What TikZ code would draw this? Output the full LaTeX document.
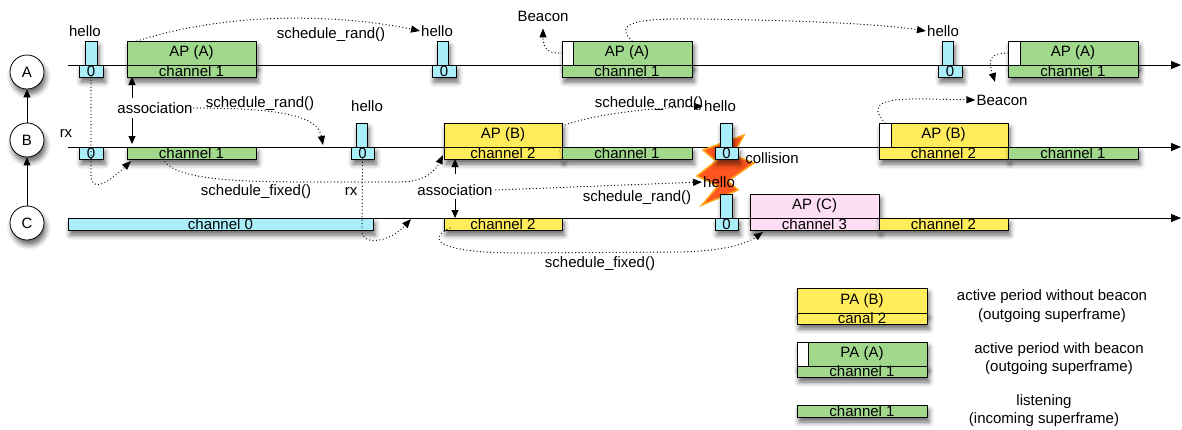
\documentclass[tikz,border=0pt]{standalone}
\usepackage{fontspec}
\setmainfont{Liberation Sans}
\usetikzlibrary{arrows.meta,shadows.blur}
\definecolor{cgreen}{RGB}{160,216,140}
\definecolor{ccyan}{RGB}{170,238,250}
\definecolor{cyellow}{RGB}{255,236,90}
\definecolor{cpink}{RGB}{253,222,245}
\definecolor{corange}{RGB}{255,85,30}
\definecolor{cedge}{RGB}{255,165,20}
\newcommand{\myfs}{\fontsize{15}{18}\selectfont}
\newcommand{\mkbox}[7]{\node[#2, minimum width={(#5-#3)*1pt}, minimum height={(#6-#4)*1pt}] (#1) at ({(#3+#5)/2},{(#4+#6)/2}) {#7};}
\begin{document}
\begin{tikzpicture}[x=1pt,y=-1pt,
  shad/.style={blur shadow={shadow xshift=2pt, shadow yshift=-5pt, shadow blur radius=5pt, shadow opacity=60}},
  bx/.style={draw, line width=0.8pt, inner sep=0pt, outer sep=0pt, shad},
  ch/.style={bx, font=\myfs, text height=10.5pt, text depth=0.5pt},
  ap/.style={bx, font=\myfs},
  bcn/.style={draw, fill=white, line width=0.8pt, inner sep=0pt, outer sep=0pt},
  lbl/.style={font=\myfs, inner sep=1pt},
  circ/.style={circle, draw, fill=white, minimum size=34pt, inner sep=0pt, line width=0.8pt, font=\myfs, shad},
  tl/.style={line width=0.9pt, -{Triangle[length=10pt,width=8pt]}},
  solidarr/.style={line width=1pt, -{Triangle[length=8pt,width=7pt]}},
  dotarr/.style={line width=1.3pt, line cap=round, dash pattern=on 0pt off 3.4pt, -{Triangle[length=9pt,width=7pt]}}
]
\useasboundingbox (0,0) rectangle (1182,429);

% timelines
\coordinate (LA0) at (68,65);  \coordinate (LA1) at (1181,65);
\coordinate (LB0) at (68,147); \coordinate (LB1) at (1181,147);
\coordinate (LC0) at (68,218); \coordinate (LC1) at (1181,218);
\draw[tl] (LA0) -- (LA1);
\draw[tl] (LB0) -- (LB1);
\draw[tl] (LC0) -- (LC1);

% station circles
\node[circ] (nA) at (27,72) {A};
\node[circ] (nB) at (27,140) {B};
\node[circ] (nC) at (27,223) {C};
\draw[solidarr] (nC) -- (nB);
\draw[solidarr] (nB) -- (nA);

% collision bolt
\filldraw[fill=corange, draw=cedge, line width=1.5pt, line join=miter]
  (744,135) -- (703,150) -- (716,161) -- (697,176) -- (718,186) -- (702,205)
  -- (738,190) -- (728,181) -- (754,163) -- (733,155) -- cycle;

% row A
\mkbox{Aht1}{bx,fill=ccyan}{85}{41}{97}{65}{}
\mkbox{Ah1}{ch,fill=ccyan}{79}{65}{103}{77}{0}
\mkbox{Aapt1}{ap,fill=cgreen}{127}{41}{256}{65}{AP (A)}
\mkbox{Aap1}{ch,fill=cgreen}{127}{65}{256}{77}{channel 1}
\mkbox{Aht2}{bx,fill=ccyan}{437}{41}{448}{65}{}
\mkbox{Ah2}{ch,fill=ccyan}{432}{65}{456}{77}{0}
\mkbox{Aapt2}{ap,fill=cgreen}{562}{41}{692}{65}{AP (A)}
\mkbox{Ab2}{bcn}{562}{41}{573}{65}{}
\mkbox{Aap2}{ch,fill=cgreen}{562}{65}{692}{77}{channel 1}
\mkbox{Aht3}{bx,fill=ccyan}{942}{41}{953}{65}{}
\mkbox{Ah3}{ch,fill=ccyan}{938}{65}{962}{77}{0}
\mkbox{Aapt3}{ap,fill=cgreen}{1008}{41}{1138}{65}{AP (A)}
\mkbox{Ab3}{bcn}{1008}{41}{1020}{65}{}
\mkbox{Aap3}{ch,fill=cgreen}{1008}{65}{1138}{77}{channel 1}

% row B
\mkbox{Bh1}{ch,fill=ccyan}{79}{147}{103}{159}{0}
\mkbox{Bch1}{ch,fill=cgreen}{127}{147}{256}{159}{channel 1}
\mkbox{Bht2}{bx,fill=ccyan}{356}{123}{367}{147}{}
\mkbox{Bh2}{ch,fill=ccyan}{351}{147}{374}{159}{0}
\mkbox{Bapt1}{ap,fill=cyellow}{444}{123}{562}{147}{AP (B)}
\mkbox{Bap1}{ch,fill=cyellow}{444}{147}{562}{159}{channel 2}
\mkbox{Bch2}{ch,fill=cgreen}{562}{147}{692}{159}{channel 1}
\mkbox{Bht3}{bx,fill=ccyan}{720}{123}{732}{147}{}
\mkbox{Bh3}{ch,fill=ccyan}{715}{147}{738}{159}{0}
\mkbox{Bapt2}{ap,fill=cyellow}{879}{123}{1008}{147}{AP (B)}
\mkbox{Bb2}{bcn}{879}{123}{891}{147}{}
\mkbox{Bap2}{ch,fill=cyellow}{879}{147}{1008}{159}{channel 2}
\mkbox{Bch3}{ch,fill=cgreen}{1008}{147}{1138}{159}{channel 1}

% row C
\mkbox{Cch0}{ch,fill=ccyan}{68}{218}{373}{230}{channel 0}
\mkbox{Cch2}{ch,fill=cyellow}{444}{218}{562}{230}{channel 2}
\mkbox{Cht}{bx,fill=ccyan}{720}{194}{732}{218}{}
\mkbox{Ch}{ch,fill=ccyan}{715}{218}{738}{230}{0}
\mkbox{Capt}{ap,fill=cpink}{750}{194}{879}{218}{AP (C)}
\mkbox{Cap}{ch,fill=cpink}{750}{218}{879}{230}{channel 3}
\mkbox{Cch2b}{ch,fill=cyellow}{879}{218}{1008}{230}{channel 2}

% legend
\mkbox{Lt1}{ap,fill=cyellow}{797}{288}{927}{313}{PA (B)}
\mkbox{L1}{ch,fill=cyellow}{797}{313}{927}{324}{canal 2}
\mkbox{Lt2}{ap,fill=cgreen}{797}{342}{927}{366}{PA (A)}
\mkbox{Lb2}{bcn}{797}{342}{808}{366}{}
\mkbox{L2}{ch,fill=cgreen}{797}{366}{927}{377}{channel 1}
\mkbox{L3}{ch,fill=cgreen}{797}{405}{927}{417}{channel 1}
\node[lbl] (lg1a) at (1052,297) {active period without beacon};
\node[lbl] (lg1b) at (1052,316) {(outgoing superframe)};
\node[lbl] (lg2a) at (1059,350) {active period with beacon};
\node[lbl] (lg2b) at (1059,368) {(outgoing superframe)};
\node[lbl] (lg3a) at (1044,402) {listening};
\node[lbl] (lg3b) at (1044,420) {(incoming superframe)};

% labels
\node[lbl] (hA1) at (85,31) {hello};
\node[lbl] (hA2) at (437,31) {hello};
\node[lbl] (hA3) at (943,31) {hello};
\node[lbl] (srA) at (331,35) {schedule\_rand()};
\node[lbl] (bcA) at (543,16) {Beacon};
\node[lbl] (asA) at (155,108) {association};
\node[lbl] (srB) at (260,104) {schedule\_rand()};
\node[lbl] (hB2) at (367,106) {hello};
\node[lbl] (rxB) at (66,133) {rx};
\node[lbl] (sfB) at (256,192) {schedule\_fixed()};
\node[lbl] (rxC) at (351,191) {rx};
\node[lbl] (asB) at (455,190) {association};
\node[lbl] (srB2) at (649,104) {schedule\_rand()};
\node[lbl] (hB3) at (720,106) {hello};
\node[lbl] (col) at (772,158) {collision};
\node[lbl] (hC) at (719,182) {hello};
\node[lbl] (srC) at (637,198) {schedule\_rand()};
\node[lbl] (sfC) at (600,264) {schedule\_fixed()};
\node[lbl] (bcB) at (1002,100) {Beacon};

% free-end coordinates
\coordinate (aAu) at (132,98);
\coordinate (aAd) at (132,118);
\coordinate (aAdE) at (132,144);
\coordinate (srBend) at (323,145);
\coordinate (rxCend) at (411,219);
\coordinate (bA3end) at (995,82);

% association arrows
\draw[solidarr] (aAu) -- (aAu |- Aap1.south);
\draw[solidarr] (aAd) -- (aAdE);
\draw[solidarr] ([yshift=9pt]asB.north) -- (asB.north |- Bap1.south);
\draw[solidarr] ([yshift=-2pt]asB.south) -- (asB.south |- Cch2.north);

% dotted connectors
\draw[dotarr] ([xshift=10pt]Aapt1.north west) .. controls (250,5) and (370,20) .. (hA2.west);
\draw[dotarr] (Ab2.west) .. controls (545,54) and (543,45) .. ([yshift=-6pt]bcA.south);
\draw[dotarr] ([xshift=70pt]Aapt2.north west) .. controls (612,22) and (640,18) .. (700,19) .. controls (850,21) and (900,27) .. (hA3.west);
\draw[dotarr] (Ab3.west) .. controls (985,53) and (990,65) .. (bA3end);
\draw[dotarr] (Bb2.north) .. controls (868,104) and (880,98) .. (930,99) -- (bcB.west);
\draw[dotarr] (asA.east) .. controls (290,108) and (318,118) .. (srBend);
\draw[dotarr] (Ah1.south) -- (91,175) .. controls (91,192) and (106,185) .. ([xshift=4pt,yshift=-2pt]Bch1.south west);
\draw[dotarr] ([xshift=36pt]Bch1.south west) .. controls (175,182) and (250,182) .. (330,182) -- (400,182) .. controls (425,182) and (436,170) .. ([xshift=-1pt,yshift=-2pt]Bap1.west);
\draw[dotarr] (Bh2.south) -- (362,232) .. controls (363,246) and (390,242) .. (rxCend);
\draw[dotarr] ([xshift=2pt]asB.east) -- (hC.west);
\draw[dotarr] ([yshift=-3pt]Bapt1.north east) .. controls (600,112) and (660,108) .. (hB3.west);
\draw[dotarr] ([xshift=6pt,yshift=2pt]Cch2.south west) .. controls (425,240) and (440,253) .. (520,253) -- (680,252) .. controls (720,251) and (745,245) .. ([xshift=13pt,yshift=-2pt]Cap.south west);
\end{tikzpicture}
\end{document}
